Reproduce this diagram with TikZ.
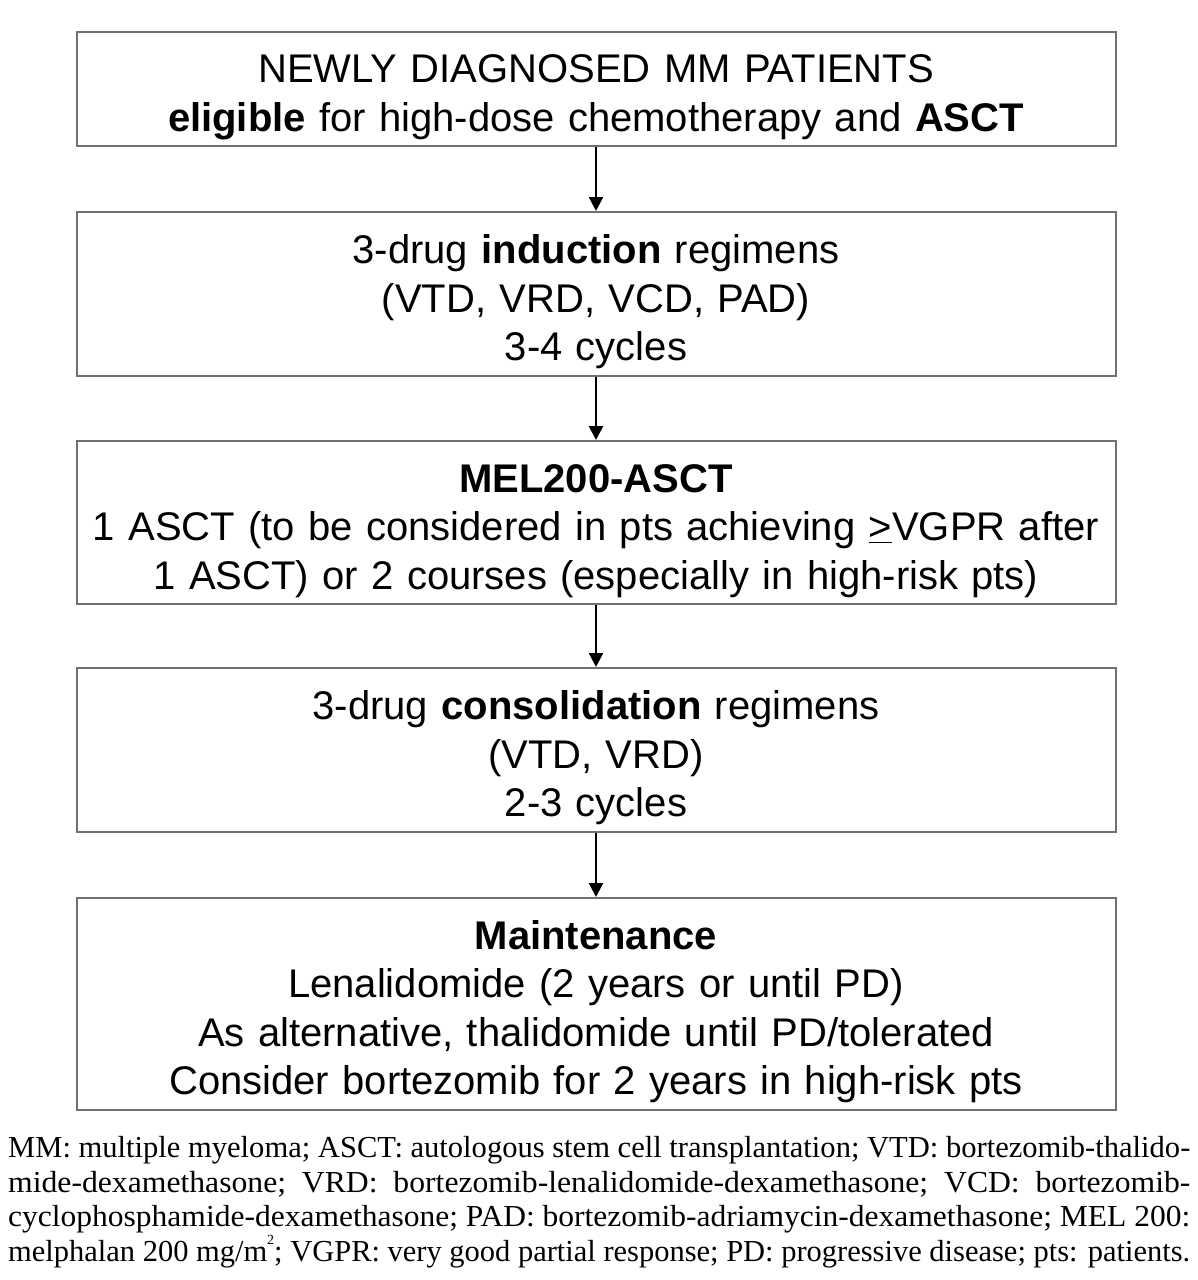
\documentclass[tikz,border=0pt]{standalone}
\usepackage{fontspec}
\usepackage{graphicx}
\setmainfont{Liberation Sans}
\newfontfamily\footfont{Liberation Serif}
\usetikzlibrary{arrows.meta}
\tikzset{
  box/.style={draw=boxgray, line width=2pt, minimum width=1039pt, inner sep=0pt,
    text width=1030pt, align=center, font=\fontsize{40}{48.5}\selectfont},
  arr/.style={line width=2.5pt, -{Triangle[width=14pt,length=14pt]}},
  fn/.style={anchor=base west, inner sep=0pt, font=\footfont\fontsize{30.5}{34.5}\selectfont}
}
\definecolor{boxgray}{HTML}{707070}
\newcommand{\fline}[1]{\resizebox{1182pt}{\height}{#1}}
\newcommand{\smsup}[1]{\raisebox{0.55em}{\fontsize{14}{14}\selectfont #1}}
\newcommand{\topst}{\rule{0pt}{48pt}}
\newcommand{\botst}{\rule[-12pt]{0pt}{0pt}}
\begin{document}
\begin{tikzpicture}[x=1pt,y=-1pt]
\useasboundingbox (0,0) rectangle (1197,1280);
\fill[white] (0,0) rectangle (1197,1280);
\node[box, minimum height=114pt] (b1) at (596,89)
  {\topst NEWLY DIAGNOSED MM PATIENTS\\\textbf{eligible} for high-dose chemotherapy and \textbf{ASCT}\botst};
\node[box, minimum height=164pt] (b2) at (596,294)
  {\topst 3-drug \textbf{induction} regimens\\(VTD, VRD, VCD, PAD)\\3-4 cycles\botst};
\node[box, minimum height=163pt] (b3) at (596,522.5)
  {\topst\textbf{MEL200-ASCT}\\1 ASCT (to be considered in pts achieving \underline{>}VGPR after\\1 ASCT) or 2 courses (especially in high-risk pts)\botst};
\node[box, minimum height=164pt] (b4) at (596,750)
  {\topst 3-drug \textbf{consolidation} regimens\\(VTD, VRD)\\2-3 cycles\botst};
\node[box, minimum height=212pt] (b5) at (596,1004)
  {\topst\textbf{Maintenance}\\Lenalidomide (2 years or until PD)\\As alternative, thalidomide until PD/tolerated\\Consider bortezomib for 2 years in high-risk pts\botst};
\draw[arr] (b1.south) -- (b2.north);
\draw[arr] (b2.south) -- (b3.north);
\draw[arr] (b3.south) -- (b4.north);
\draw[arr] (b4.south) -- (b5.north);
\node[fn] (f1) at (8,1157) {\fline{MM: multiple myeloma; ASCT: autologous stem cell transplantation; VTD: bortezomib-thalido-}};
\node[fn] (f2) at (8,1192) {\fline{mide-dexamethasone;\ \ VRD:\ \ bortezomib-lenalidomide-dexamethasone;\ \ VCD:\ \ bortezomib-}};
\node[fn] (f3) at (8,1226) {\fline{cyclophosphamide-dexamethasone; PAD: bortezomib-adriamycin-dexamethasone; MEL 200:}};
\node[fn] (f4) at (8,1261) {\fline{melphalan 200 mg/m\smsup{2}; VGPR: very good partial response; PD: progressive disease; pts: patients.}};
\end{tikzpicture}
\end{document}
